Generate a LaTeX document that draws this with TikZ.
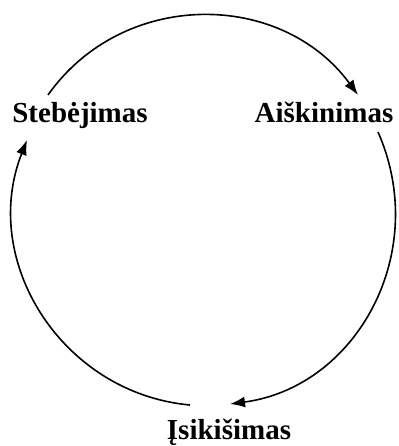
\documentclass[tikz,border=0pt]{standalone}
\usepackage{fontspec}
\setmainfont{Liberation Serif}
\usepackage{tikz}
\usetikzlibrary{arrows.meta}

\begin{document}
\begin{tikzpicture}[x=1pt, y=1pt,
  stage/.style={font=\fontsize{29}{34}\selectfont\bfseries, anchor=base, inner sep=0pt},
  flow/.style={line width=1.6pt, -{Latex[length=15pt, width=11pt]}}]
  \useasboundingbox (0,0) rectangle (398,446);
  % Stages
  \node[stage] (steb) at (80,323) {Stebėjimas};
  \node[stage] (aisk) at (324,323) {Aiškinimas};
  \node[stage] (isik) at (229,6) {Įsikišimas};
  % Arcs between the stages
  \draw[flow] ([shift={(-32,28)}]steb.base)
    .. controls +(75,106) and +(-77,105) .. ([shift={(34,28)}]aisk.base);
  \draw[flow] ([shift={(54,-9)}]aisk.base)
    .. controls +(53,-120) and +(127,17) .. ([shift={(1,36)}]isik.base);
  \draw[flow] ([shift={(-39,35)}]isik.base)
    .. controls +(-127,11.5) and +(-48,-122) .. ([shift={(-53,-17)}]steb.base);
\end{tikzpicture}
\end{document}
